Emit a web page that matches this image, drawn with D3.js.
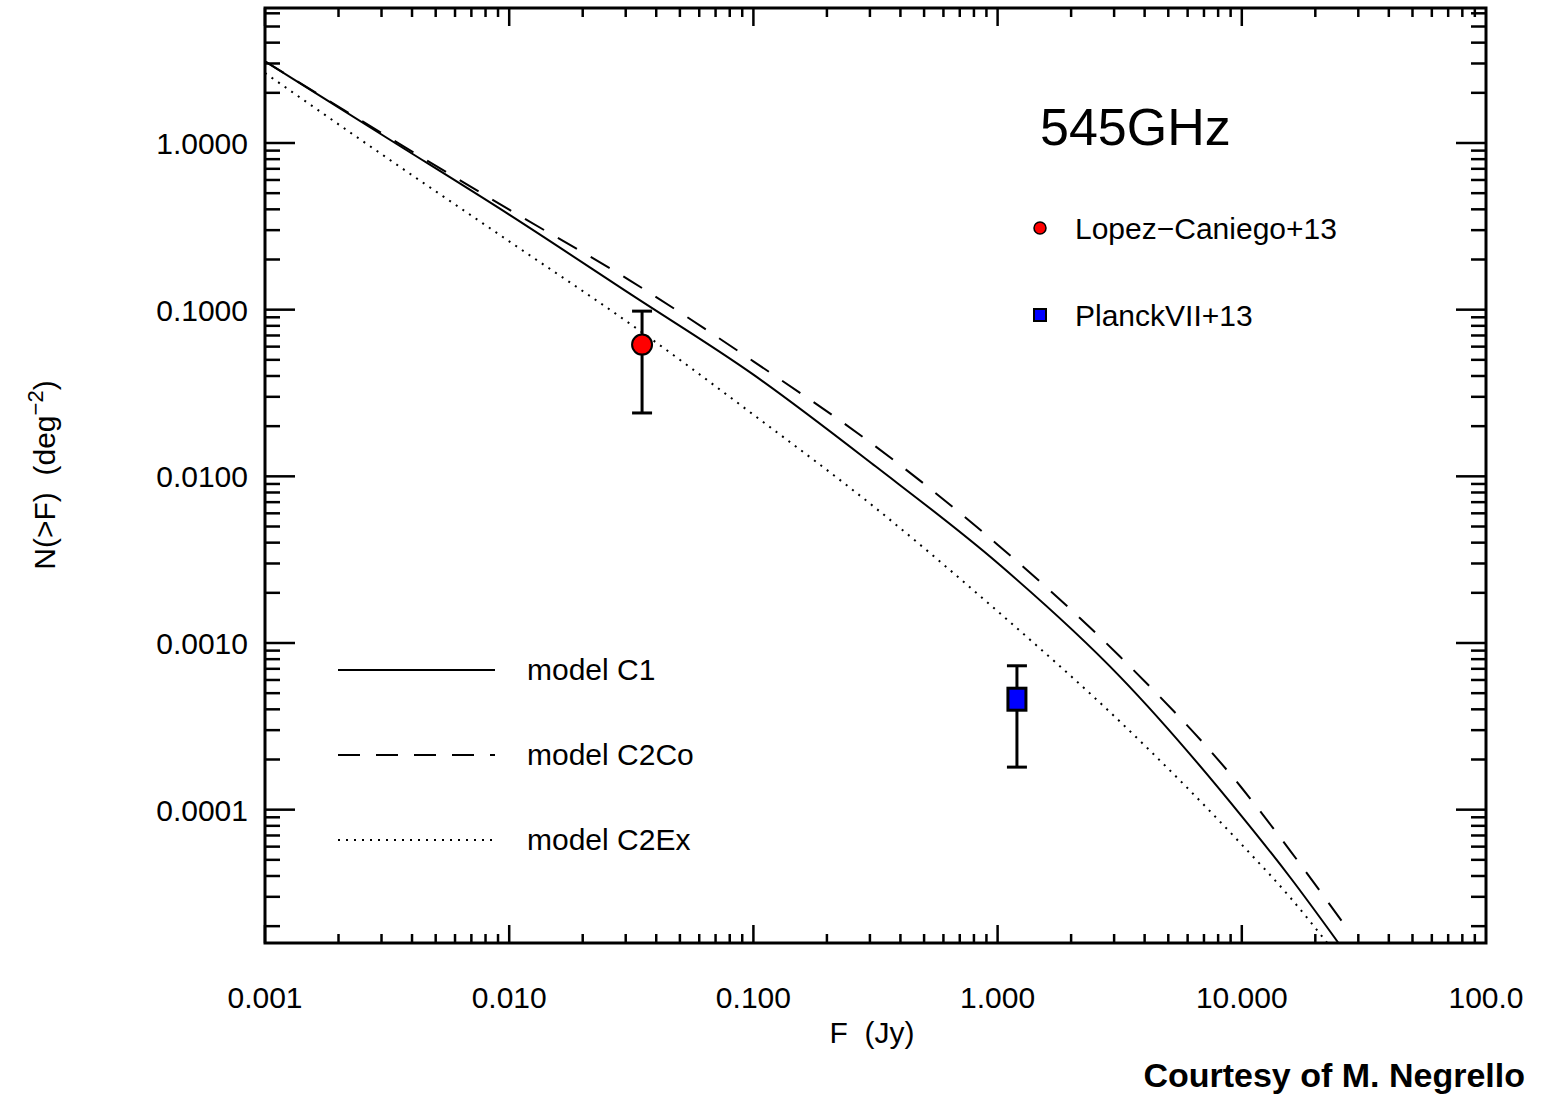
<!DOCTYPE html><html><head><script src="https://cdn.jsdelivr.net/npm/d3@7"></script>
<style>body{margin:0;background:#fff}</style></head><body><svg id="c" width="1547" height="1095"></svg>
<script>
// log10 F, log10 N
const logF = [-3, -2.5, -2, -1.5, -1, -0.5, 0, 0.5, 1, 1.2, 1.396];
const c1   = [0.49, 0.03, -0.43, -0.91, -1.39, -1.94, -2.52, -3.20, -4.04, -4.41, -4.8];
const logF2= [-3, -2.5, -2, -1.5, -1, -0.5, 0, 0.5, 1, 1.2, 1.42];
const c2co = [0.49, 0.04, -0.40, -0.83, -1.31, -1.82, -2.41, -3.08, -3.87, -4.25, -4.69];
const logF3= [-3, -2.5, -2, -1.5, -1, -0.5, 0, 0.5, 1, 1.2, 1.35];
const c2ex = [0.42, -0.09, -0.59, -1.09, -1.63, -2.19, -2.81, -3.47, -4.21, -4.53, -4.8];
const pts = [
 {name:"Lopez\u2212Caniego+13", f:0.035, n:0.0617, lo:0.024, hi:0.098, shape:"circle", color:"#ff0000"},
 {name:"PlanckVII+13", f:1.2, n:0.00046, lo:0.00018, hi:0.00073, shape:"square", color:"#0000ff"}];
const xTicks=[0.001,0.01,0.1,1,10,100], xLab=["0.001","0.010","0.100","1.000","10.000","100.0"];
const yTicks=[1,0.1,0.01,0.001,0.0001], yLab=["1.0000","0.1000","0.0100","0.0010","0.0001"];
const models=[{name:"model C1",x:logF,y:c1,dash:null},{name:"model C2Co",x:logF2,y:c2co,dash:"22,16"},{name:"model C2Ex",x:logF3,y:c2ex,dash:"2,6"}];

const svg=d3.select("#c"), L=265,R=1486,T=8,B=943;
const x=d3.scaleLog().domain([0.001,100]).range([L,R]);
const y=d3.scaleLog().domain([Math.pow(10,-4.8),Math.pow(10,0.81)]).range([B,T]);
const font="Liberation Sans, Arial, sans-serif";
svg.append("defs").append("clipPath").attr("id","cp").append("rect").attr("x",L).attr("y",T).attr("width",R-L).attr("height",B-T);
const g=svg.append("g").attr("stroke","#000").attr("stroke-width",2.5);
for(let d=-3;d<2;d++)for(let k=1;k<10;k++){const v=k*Math.pow(10,d),px=x(v),len=k==1?18:9;
 g.append("line").attr("x1",px).attr("x2",px).attr("y1",B).attr("y2",B-len);
 g.append("line").attr("x1",px).attr("x2",px).attr("y1",T).attr("y2",T+len);}
for(let d=-5;d<1;d++)for(let k=1;k<10;k++){const v=k*Math.pow(10,d);if(v<y.domain()[0]||v>y.domain()[1])continue;const py=y(v),len=k==1?30:15;
 g.append("line").attr("y1",py).attr("y2",py).attr("x1",L).attr("x2",L+len);
 g.append("line").attr("y1",py).attr("y2",py).attr("x1",R).attr("x2",R-len);}
svg.append("rect").attr("x",L).attr("y",T).attr("width",R-L).attr("height",B-T).attr("fill","none").attr("stroke","#000").attr("stroke-width",3);
xTicks.forEach((v,i)=>svg.append("text").attr("x",x(v)).attr("y",1008).attr("text-anchor","middle").attr("font-family",font).attr("font-size",30).text(xLab[i]));
yTicks.forEach((v,i)=>svg.append("text").attr("x",248).attr("y",y(v)+11).attr("text-anchor","end").attr("font-family",font).attr("font-size",30).text(yLab[i]));
svg.append("text").attr("x",872).attr("y",1043).attr("text-anchor","middle").attr("font-family",font).attr("font-size",30).attr("xml:space","preserve").text("F  (Jy)");
const yl=svg.append("text").attr("transform","translate(55,475) rotate(-90)").attr("text-anchor","middle").attr("font-family",font).attr("font-size",30).attr("xml:space","preserve");
yl.append("tspan").text("N(>F)  (deg");yl.append("tspan").attr("dy",-12).attr("font-size",22).text("\u22122");yl.append("tspan").attr("dy",12).text(")");
const line=d3.line().x(d=>x(Math.pow(10,d[0]))).y(d=>y(Math.pow(10,d[1]))).curve(d3.curveMonotoneX);
models.forEach(m=>svg.append("path").attr("clip-path","url(#cp)").attr("d",line(m.x.map((v,i)=>[v,m.y[i]]))).attr("fill","none").attr("stroke","#000").attr("stroke-width",2).attr("stroke-dasharray",m.dash));
pts.forEach(p=>{const px=x(p.f);
 svg.append("line").attr("x1",px).attr("x2",px).attr("y1",y(p.lo)).attr("y2",y(p.hi)).attr("stroke","#000").attr("stroke-width",3);
 [p.lo,p.hi].forEach(v=>svg.append("line").attr("x1",px-10).attr("x2",px+10).attr("y1",y(v)).attr("y2",y(v)).attr("stroke","#000").attr("stroke-width",3));
 if(p.shape=="circle")svg.append("circle").attr("cx",px).attr("cy",y(p.n)).attr("r",10).attr("fill",p.color).attr("stroke","#000").attr("stroke-width",2);
 else svg.append("rect").attr("x",px-9).attr("y",y(p.n)-11).attr("width",18).attr("height",22).attr("fill",p.color).attr("stroke","#000").attr("stroke-width",3);});
svg.append("text").attr("x",1040).attr("y",145).attr("font-family",font).attr("font-size",52).text("545GHz");
pts.forEach((p,i)=>{const ly=228+i*87;
 if(p.shape=="circle")svg.append("circle").attr("cx",1040).attr("cy",ly).attr("r",6).attr("fill",p.color).attr("stroke","#000").attr("stroke-width",1.5);
 else svg.append("rect").attr("x",1034).attr("y",ly-6).attr("width",12).attr("height",12).attr("fill",p.color).attr("stroke","#000").attr("stroke-width",2);
 svg.append("text").attr("x",1075).attr("y",ly+11).attr("font-family",font).attr("font-size",30).text(p.name);});
models.forEach((m,i)=>{const ly=670+i*85;
 svg.append("line").attr("x1",338).attr("x2",495).attr("y1",ly).attr("y2",ly).attr("stroke","#000").attr("stroke-width",2).attr("stroke-dasharray",m.dash);
 svg.append("text").attr("x",527).attr("y",ly+10).attr("font-family",font).attr("font-size",30).text(m.name);});
svg.append("text").attr("x",1525).attr("y",1087).attr("text-anchor","end").attr("font-family",font).attr("font-weight","bold").attr("font-size",34).text("Courtesy of M. Negrello");
</script></body></html>
